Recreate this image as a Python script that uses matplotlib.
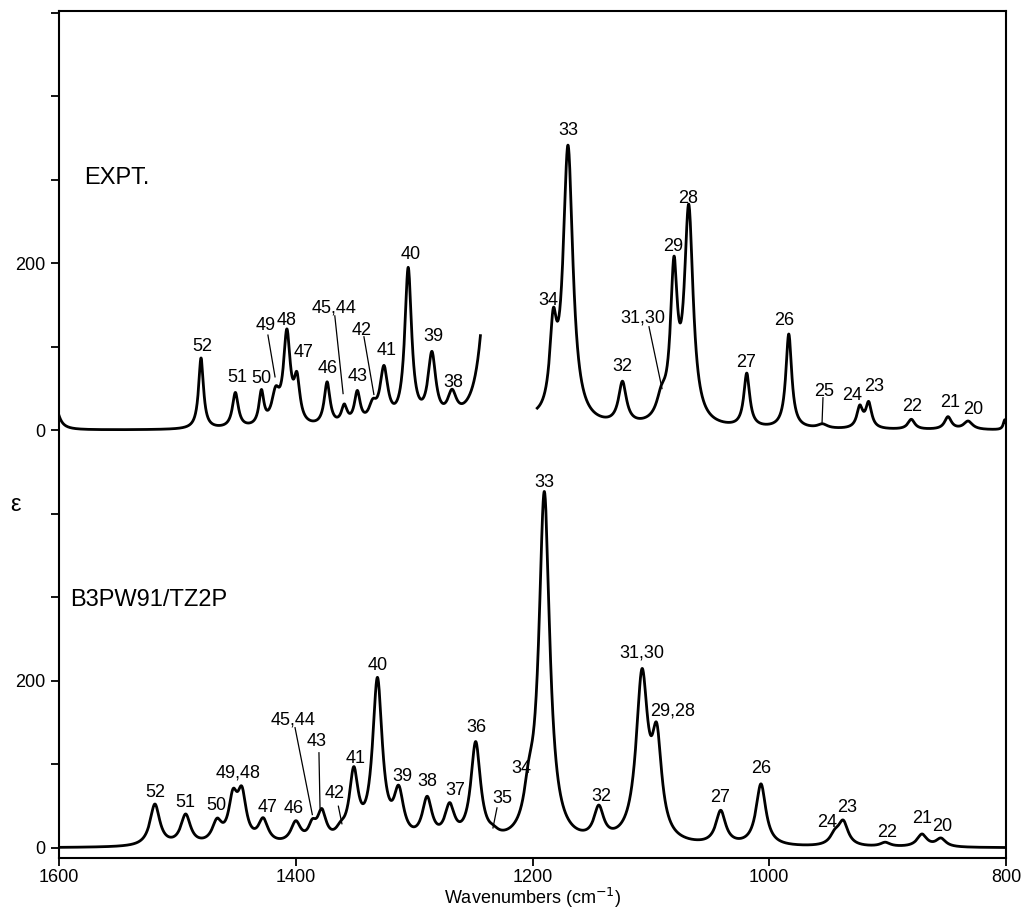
import numpy as np
import matplotlib
matplotlib.use("Agg")
import matplotlib.pyplot as plt
from matplotlib.ticker import MultipleLocator, FuncFormatter

plt.rcParams['font.family'] = ['Liberation Sans', 'DejaVu Sans']

# --- band parameters (centre cm-1, height, half width) ---
# experimental spectrum (drawn offset by 500)
expt_center = [1604, 1480, 1451, 1429, 1417, 1407.5, 1399, 1373.5, 1359, 1348, 1335,
               1325.5, 1305, 1285, 1268, 1236,
               1182.5, 1170, 1124, 1091, 1080.5, 1068, 1019, 983.5, 955, 923.5, 916,
               880, 849, 832, 801]
expt_height = [35, 85, 42, 40, 35, 108, 50, 52, 22, 38, 20,
               65, 185, 80, 30, 250,
               95, 330, 50, 25, 172, 255, 64, 113, 5, 25, 30,
               12, 15, 10, 12]
expt_width = [4, 2.5, 3, 2.5, 4, 3.5, 3, 3, 3, 3, 4,
              4, 3.5, 4, 4.5, 7,
              3.5, 5, 4, 5, 3.5, 4.5, 3, 3, 5, 3, 3,
              3.5, 3.5, 4.5, 1.5]
# regions where the experimental trace was recorded
expt_ranges = [(1600, 1244), (1196, 800)]

# calculated B3PW91/TZ2P spectrum
calc_center = [1519, 1493, 1466.5, 1453, 1445.5, 1427.5, 1400, 1386, 1378, 1362,
               1351, 1331, 1313, 1289, 1270, 1248, 1233, 1203, 1190, 1144,
               1107.5, 1095, 1041, 1007, 944.5, 937.5, 902, 871, 855]
calc_height = [50, 36, 25, 50, 55, 28, 25, 18, 35, 10,
               80, 193, 55, 50, 40, 118, 5, 40, 418, 38,
               196, 110, 40, 74, 12, 28, 5, 15, 10]
calc_width = [5, 5, 5, 4.5, 4.5, 5, 5, 4, 4.5, 5,
              4.5, 5, 5, 5, 5, 5, 5, 5, 5.5, 5,
              6, 5, 5, 5, 5, 5, 5, 5, 5]

EXPT_OFFSET = 500

# peak labels: text, x (cm-1), y (axis units)
expt_labels = [("52", 1479, 600), ("51", 1449, 563), ("50", 1429, 562), ("49", 1425, 625),
               ("48", 1407.5, 632), ("47", 1393, 593), ("46", 1373, 574), ("45,44", 1367.7, 647),
               ("43", 1348, 565), ("42", 1344, 620), ("41", 1323, 596), ("40", 1302.6, 710),
               ("39", 1284, 612), ("38", 1267, 557), ("34", 1187, 656), ("33", 1170, 859),
               ("32", 1124.4, 577), ("31,30", 1106.7, 635), ("29", 1081, 720), ("28", 1068.6, 778),
               ("27", 1019.6, 581), ("26", 987.5, 631), ("25", 953.7, 547), ("24", 930, 542),
               ("23", 911.5, 553), ("22", 879.4, 529), ("21", 847, 533), ("20", 828, 525)]
expt_leaders = [((1423.5, 614), (1417.5, 564)), ((1367, 637), (1360, 544)),
                ((1342.4, 612), (1334, 543)), ((1101.6, 624), (1090.6, 550)),
                ((954.6, 539), (955.4, 509))]

calc_labels = [("52", 1519, 67), ("51", 1493, 54), ("50", 1467, 51), ("49,48", 1449, 90),
               ("47", 1423.5, 48), ("46", 1401.5, 47), ("45,44", 1402.3, 153), ("43", 1382, 127),
               ("42", 1367, 65), ("41", 1349, 107), ("40", 1330.5, 218), ("39", 1310, 86),
               ("38", 1289, 79), ("37", 1265.5, 69), ("36", 1247.7, 144), ("35", 1225.8, 59),
               ("34", 1209.7, 95), ("33", 1190, 437), ("32", 1142, 62), ("31,30", 1107.5, 233),
               ("29,28", 1082, 164), ("27", 1041.6, 60), ("26", 1007, 95), ("24", 951, 30),
               ("23", 934, 48), ("22", 900.5, 19), ("21", 871, 35), ("20", 854, 26)]
calc_leaders = [((1400.6, 144), (1386, 40)), ((1380.4, 114), (1379.5, 48)),
                ((1364, 50), (1361, 29)), ((1230, 48), (1233.4, 24))]


def band_sum(x, centers, heights, widths):
    y = np.zeros_like(x)
    for c, h, w in zip(centers, heights, widths):
        y += h / (1.0 + ((x - c) / w) ** 2)
    return y


wn = np.linspace(800, 1600, 8001)
calc = band_sum(wn, calc_center, calc_height, calc_width)
expt = band_sum(wn, expt_center, expt_height, expt_width) + EXPT_OFFSET
keep = np.zeros_like(wn, dtype=bool)
for hi, lo in expt_ranges:
    keep |= (wn <= hi) & (wn >= lo)
expt[~keep] = np.nan

fig = plt.figure(figsize=(10.21, 9.09), dpi=100)
ax = fig.add_axes([59 / 1021, 1 - 858 / 909, 947 / 1021, 847 / 909])

ax.plot(wn, calc, color='black', lw=2)
ax.plot(wn, expt, color='black', lw=2)

for txt, x, y in expt_labels + calc_labels:
    ax.text(x, y, txt, fontsize=13, ha='center', va='center')
for (x1, y1), (x2, y2) in expt_leaders + calc_leaders:
    ax.plot([x1, x2], [y1, y2], color='black', lw=0.9)

ax.text(1579, 802, "EXPT.", fontsize=17, ha='left', va='center')
ax.text(1591, 297, "B3PW91/TZ2P", fontsize=17, ha='left', va='center')

ax.set_xlim(1600, 800)
ax.set_ylim(-12, 1002)
ax.xaxis.set_major_locator(MultipleLocator(200))
ax.yaxis.set_major_locator(MultipleLocator(100))
shown = {0: "0", 200: "200", 500: "0", 700: "200"}
ax.yaxis.set_major_formatter(FuncFormatter(lambda v, p: shown.get(int(round(v)), "")))
ax.tick_params(direction='out', length=6, width=1.3, labelsize=13)
ax.tick_params(axis='x', pad=2)
for s in ax.spines.values():
    s.set_linewidth(1.5)

ax.set_xlabel("Wavenumbers (cm$^{-1}$)", fontsize=13)
ax.xaxis.set_label_coords(0.5, -40 / 847)
ax.xaxis.label.set_va('center')
ax.set_ylabel("ε", fontsize=17, rotation=0)
ax.yaxis.set_label_coords(-0.046, (398 + 12) / 1014)

fig.savefig("out.png", dpi=100)
